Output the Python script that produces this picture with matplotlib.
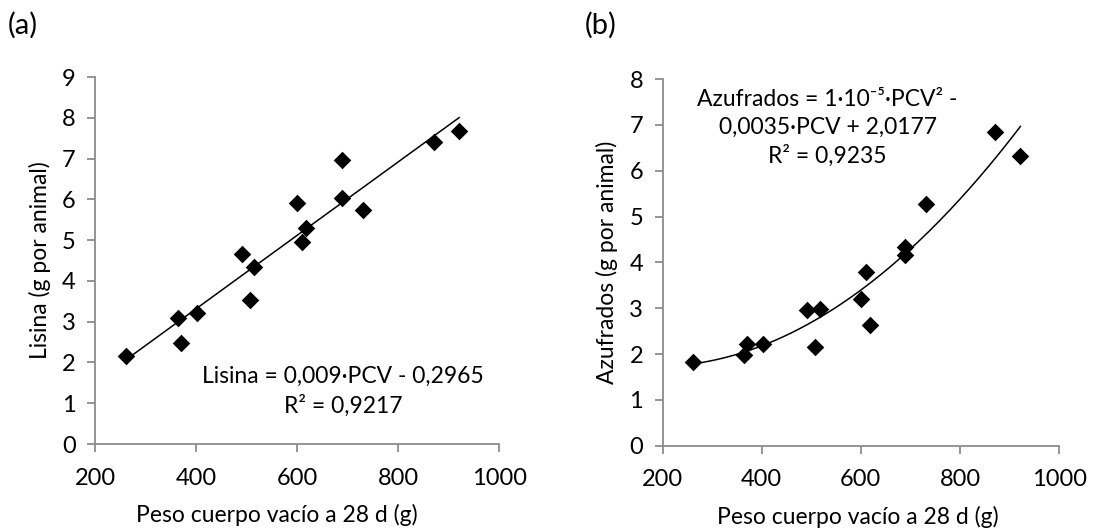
import numpy as np
import matplotlib
matplotlib.use("Agg")
from matplotlib import pyplot as plt

plt.rcParams['font.family'] = ['Lato', 'DejaVu Sans']

# Peso cuerpo vacío a 28 d (g) y contenido por animal (g)
pcv_lis = [261, 364, 371, 401, 492, 507, 515, 600, 609, 618, 689, 689, 730, 871, 921]
lisina = [2.17, 3.09, 2.48, 3.21, 4.66, 3.54, 4.34, 5.90, 4.96, 5.29, 6.97, 6.04, 5.74, 7.42, 7.68]

pcv_azu = [261, 365, 371, 402, 491, 508, 517, 601, 610, 618, 689, 689, 731, 871, 922]
azufrados = [1.83, 1.98, 2.22, 2.22, 2.96, 2.15, 2.98, 3.19, 3.79, 2.63, 4.34, 4.15, 5.27, 6.85, 6.33]

x_ticks = [200, 400, 600, 800, 1000]
x_label = 'Peso cuerpo vacío a 28 d (g)'

fig = plt.figure(figsize=(11.05, 5.31), dpi=100)
ax_a = fig.add_axes([0.086, 0.1638, 0.3656, 0.691])
ax_b = fig.add_axes([0.5997, 0.1606, 0.3587, 0.6906])

axis_grey = '#8c8c8c'
fs_tick = 17
fs = 16.5


def style_axes(ax, ymax, xlabel_x):
    ax.set_xlim(200, 1000)
    ax.set_ylim(0, ymax)
    ax.set_xticks(x_ticks)
    ax.set_yticks(range(0, ymax + 1))
    for side in ('top', 'right'):
        ax.spines[side].set_visible(False)
    for side in ('left', 'bottom'):
        ax.spines[side].set_color(axis_grey)
        ax.spines[side].set_linewidth(1.3)
    ax.tick_params(axis='both', direction='out', length=6, width=1.3,
                   color=axis_grey, labelsize=fs_tick, labelcolor='black')
    ax.tick_params(axis='y', pad=8)
    ax.tick_params(axis='x', pad=11)
    ax.set_xlabel(x_label, fontsize=fs, labelpad=11)
    ax.xaxis.label.set_x(xlabel_x)
    for lab in ax.get_xticklabels() + ax.get_yticklabels():
        lab.set_clip_on(False)


marker_kw = dict(marker='D', s=80, color='black', zorder=3, clip_on=False, linewidths=0)

# (a) Lisina, ajuste lineal
ax_a.scatter(pcv_lis, lisina, **marker_kw)
coef_a = np.polyfit(pcv_lis, lisina, 1)
xa = np.linspace(min(pcv_lis), max(pcv_lis), 100)
ax_a.plot(xa, np.polyval(coef_a, xa), color='black', lw=1.1, zorder=2)
style_axes(ax_a, 9, 0.45)
ax_a.set_ylabel('Lisina (g por animal)', fontsize=fs, labelpad=8)
ax_a.text(691, 1.29, 'Lisina = 0,009·PCV - 0,2965\nR² = 0,9217', ha='center', va='center',
          fontsize=fs, linespacing=1.4)

# (b) Azufrados, ajuste polinómico de grado 2
ax_b.scatter(pcv_azu, azufrados, **marker_kw)
coef_b = np.polyfit(pcv_azu, azufrados, 2)
xb = np.linspace(min(pcv_azu), max(pcv_azu), 200)
ax_b.plot(xb, np.polyval(coef_b, xb), color='black', lw=1.1, zorder=2)
style_axes(ax_b, 8, 0.493)
ax_b.set_ylabel('Azufrados (g por animal)', fontsize=fs, labelpad=8)
ax_b.text(533, 6.93, 'Azufrados = 1·10⁻⁵·PCV² -\n0,0035·PCV + 2,0177\nR² = 0,9235',
          ha='center', va='center', fontsize=fs, linespacing=1.4)

fig.text(0.007, 0.953, '(a)', fontsize=21, ha='left', va='center')
fig.text(0.529, 0.953, '(b)', fontsize=21, ha='left', va='center')

fig.savefig('out.png', dpi=100)
